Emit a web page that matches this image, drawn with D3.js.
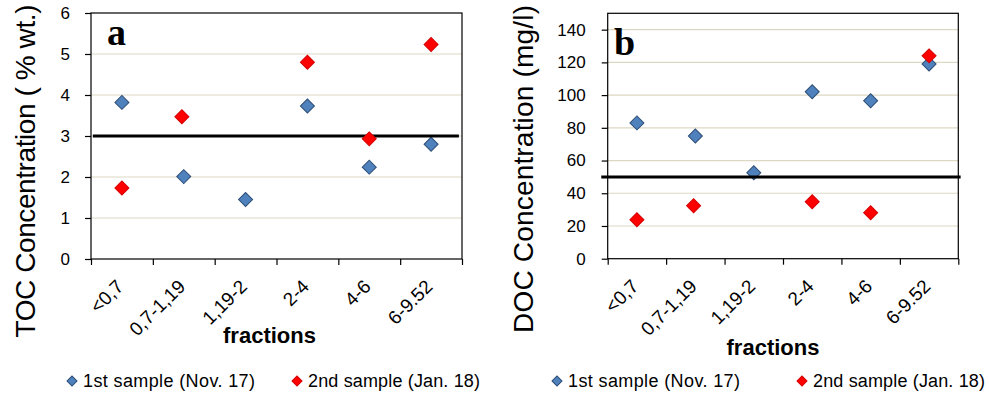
<!DOCTYPE html>
<html>
<head>
<meta charset="utf-8">
<script src="https://cdn.jsdelivr.net/npm/d3@7"></script>
<style>
  body { margin: 0; background: #fff; }
  svg { display: block; }
  text { font-family: "Liberation Sans", Arial, sans-serif; fill: #000; }
</style>
</head>
<body>
<svg id="chart" width="989" height="396"></svg>
<script>
// categories on the x axis (size fractions)
const categories = ["<0,7", "0,7-1,19", "1,19-2", "2-4", "4-6", "6-9.52"];

// panel a : TOC (% wt.)
const tocFirst = [3.82, 2.01, 1.45, 3.73, 2.24, 2.80];
const tocSecond = [1.73, 3.47, 4.80, 2.93, 5.23];
const tocTicks = [0, 1, 2, 3, 4, 5, 6];
const tocLimit = 3;

// panel b : DOC (mg/l)
const docFirst = [83, 75, 52.5, 102, 96.5, 119];
const docSecond = [23.8, 32.4, 34.8, 28.1, 124];
const docTicks = [0, 20, 40, 60, 80, 100, 120, 140];
const docLimit = 50;

// position of the 2nd-sample points, in category units (0 = left edge)
const secondPos = [0.5, 1.47, 3.5, 4.5, 5.5];
const firstPos = categories.map((c, i) => i + 0.5);

const legendLabels = ["1st sample  (Nov. 17)", "2nd sample  (Jan. 18)"];

const blue = "#4f81bd", blueEdge = "#2c4d75";
const red = "#ff0000", redEdge = "#d40000";
const gridColor = "#ddd8c4";

const svg = d3.select("#chart");

function drawPanel(cfg) {
  const g = svg.append("g");
  const x = d3.scaleLinear().domain([0, categories.length]).range([cfg.left, cfg.right]);
  const y = d3.scaleLinear().domain(cfg.domain).range([cfg.bottom, cfg.top]);

  // gridlines
  g.append("g").selectAll("line")
    .data(cfg.ticks.filter(t => t > 0 && y(t) > cfg.top + 1))
    .join("line")
    .attr("x1", cfg.left).attr("x2", cfg.right)
    .attr("y1", d => y(d)).attr("y2", d => y(d))
    .attr("stroke", gridColor).attr("stroke-width", 1.2);

  // frame
  g.append("rect")
    .attr("x", cfg.left).attr("y", cfg.top)
    .attr("width", cfg.right - cfg.left).attr("height", cfg.bottom - cfg.top)
    .attr("fill", "none").attr("stroke", "#000").attr("stroke-width", 1.2);

  // y axis
  const ya = g.append("g")
    .attr("transform", `translate(${cfg.left},0)`)
    .call(d3.axisLeft(y).tickValues(cfg.ticks).tickFormat(d3.format("d")).tickSize(6).tickPadding(cfg.tickPad));
  ya.select(".domain").remove();
  ya.selectAll("text").style("font-size", "17px").style("font-family", "Liberation Sans, Arial, sans-serif");
  ya.selectAll("line").attr("stroke-width", 1.2);

  // x axis (ticks at category boundaries)
  const xa = g.append("g")
    .attr("transform", `translate(0,${cfg.bottom})`)
    .call(d3.axisBottom(x).tickValues(d3.range(categories.length + 1)).tickSize(6).tickFormat(""));
  xa.select(".domain").remove();
  xa.selectAll("line").attr("stroke-width", 1.2);

  // rotated category labels
  g.append("g").selectAll("text")
    .data(categories)
    .join("text")
    .attr("transform", (d, i) => `translate(${x(firstPos[i]) - 2},${cfg.bottom + 24}) rotate(-45)`)
    .attr("text-anchor", "end")
    .attr("dy", "0.35em")
    .style("font-size", "19px")
    .text(d => d);

  // axis titles
  g.append("text")
    .attr("transform", `translate(${cfg.titleX},${cfg.titleY}) rotate(-90)`)
    .attr("text-anchor", "middle")
    .attr("dy", "0.35em")
    .attr("textLength", cfg.titleLen)
    .style("font-size", "28px")
    .text(cfg.title);

  g.append("text")
    .attr("x", (cfg.left + cfg.right) / 2 + cfg.fracShift)
    .attr("y", cfg.fracY)
    .attr("text-anchor", "middle")
    .attr("dy", "0.35em")
    .style("font-size", "22px").style("font-weight", "bold")
    .text("fractions");

  // panel letter
  g.append("text")
    .attr("x", cfg.letterX).attr("y", cfg.letterY)
    .style("font-family", "Liberation Serif, Times New Roman, serif")
    .style("font-size", "38px").style("font-weight", "bold")
    .text(cfg.letter);

  const diamond = d3.symbol().type(d3.symbolSquare).size(98);

  // 1st sample
  g.append("g").selectAll("path")
    .data(cfg.first)
    .join("path")
    .attr("d", diamond)
    .attr("transform", (d, i) => `translate(${x(firstPos[i])},${y(d)}) rotate(45)`)
    .attr("fill", blue).attr("stroke", blueEdge).attr("stroke-width", 1);

  // limit line
  g.append("line")
    .attr("x1", x(cfg.limitSpan[0])).attr("x2", x(cfg.limitSpan[1]))
    .attr("y1", y(cfg.limit)).attr("y2", y(cfg.limit))
    .attr("stroke", "#000").attr("stroke-width", 3);

  // 2nd sample
  g.append("g").selectAll("path")
    .data(cfg.second)
    .join("path")
    .attr("d", diamond)
    .attr("transform", (d, i) => `translate(${x(secondPos[i])},${y(d)}) rotate(45)`)
    .attr("fill", red).attr("stroke", redEdge).attr("stroke-width", 1);

  // legend
  const small = d3.symbol().type(d3.symbolSquare).size(50);
  const lg = g.append("g").selectAll("g")
    .data(legendLabels)
    .join("g")
    .attr("transform", (d, i) => `translate(${cfg.legendX[i]},${cfg.legendY})`);
  lg.append("path")
    .attr("d", small)
    .attr("transform", "rotate(45)")
    .attr("fill", (d, i) => i === 0 ? blue : red)
    .attr("stroke", (d, i) => i === 0 ? blueEdge : redEdge);
  lg.append("text")
    .attr("x", 11).attr("dy", "0.35em")
    .attr("textLength", 172)
    .style("font-size", "18px")
    .text(d => d);
}

drawPanel({
  left: 91, right: 462, top: 13, bottom: 259,
  domain: [0, 6], ticks: tocTicks, tickPad: 15,
  first: tocFirst, second: tocSecond,
  limit: tocLimit, limitSpan: [0.03, 5.95],
  title: "TOC Concentration ( % wt.)", titleX: 25, titleY: 171, titleLen: 333,
  fracY: 335, fracShift: -7,
  letter: "a", letterX: 107, letterY: 45,
  legendX: [72, 297], legendY: 381
});

drawPanel({
  left: 607.7, right: 958.3, top: 13.3, bottom: 258.7,
  domain: [0, 150], ticks: docTicks, tickPad: 16,
  first: docFirst, second: docSecond,
  limit: docLimit, limitSpan: [-0.11, 6.04],
  title: "DOC Concentration (mg/l)", titleX: 523, titleY: 169, titleLen: 328,
  fracY: 347, fracShift: -10,
  letter: "b", letterX: 614, letterY: 55,
  legendX: [557, 802], legendY: 381
});
</script>
</body>
</html>
